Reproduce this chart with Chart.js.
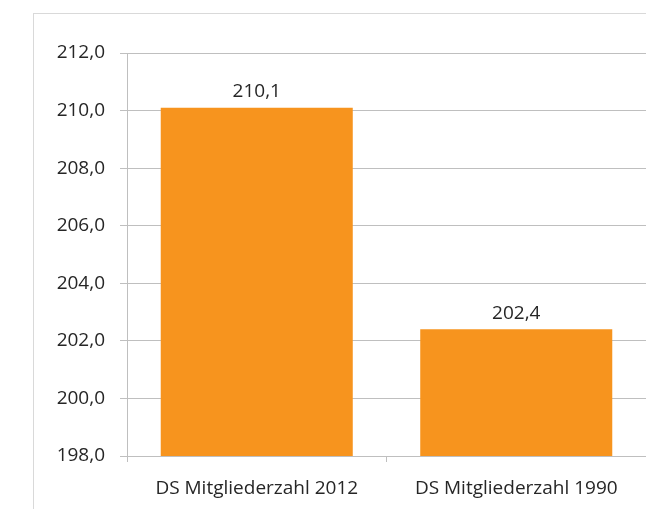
<!DOCTYPE html>
<html>
<head>
<meta charset="utf-8">
<script src="https://cdn.jsdelivr.net/npm/chart.js@4"></script>
<style>
  html, body { margin: 0; padding: 0; background: #fff; }
  #wrap { position: relative; width: 646px; height: 509px; overflow: hidden; }
  #frame { position: absolute; left: 33px; top: 13px; right: -5px; bottom: -5px; border: 1px solid #d9d9d9; }
  canvas { position: absolute; left: 0; top: 0; }
</style>
</head>
<body>
<div id="wrap">
  <div id="frame"></div>
  <canvas id="chart" width="646" height="509"></canvas>
</div>
<script>
const categories = ['DS Mitgliederzahl 2012', 'DS Mitgliederzahl 1990'];
const values = [210.1, 202.4];
const yMin = 198;
const yMax = 212;
const yStep = 2;

const fmt = v => v.toFixed(1).replace('.', ',');
const textColor = '#262626';
const fontFamily = '"Open Sans", sans-serif';
const fontSize = 19;

// value labels above each bar
const valueLabels = {
  id: 'valueLabels',
  afterDatasetsDraw(chart) {
    const ctx = chart.ctx;
    const meta = chart.getDatasetMeta(0);
    ctx.save();
    ctx.fillStyle = textColor;
    ctx.font = fontSize + 'px ' + fontFamily;
    ctx.textAlign = 'center';
    ctx.textBaseline = 'middle';
    meta.data.forEach((bar, i) => {
      ctx.fillText(fmt(values[i]), bar.x, bar.y - 16);
    });
    ctx.restore();
  }
};

new Chart(document.getElementById('chart'), {
  type: 'bar',
  data: {
    labels: categories,
    datasets: [{
      data: values,
      backgroundColor: '#f7941e',
      barPercentage: 0.74,
      categoryPercentage: 1
    }]
  },
  options: {
    responsive: false,
    animation: false,
    layout: { padding: { top: 53, right: 0, bottom: 0, left: 0 } },
    plugins: {
      legend: { display: false },
      tooltip: { enabled: false }
    },
    scales: {
      x: {
        grid: { offset: true, drawOnChartArea: false, tickLength: 6, color: '#bfbfbf' },
        border: { color: '#bfbfbf' },
        ticks: { color: textColor, font: { family: fontFamily, size: fontSize }, padding: 15 },
        afterFit(scale) { scale.height = 53; }
      },
      y: {
        min: yMin,
        max: yMax,
        grid: { color: '#bfbfbf', tickLength: 7 },
        border: { color: '#bfbfbf' },
        ticks: {
          stepSize: yStep,
          color: textColor,
          font: { family: fontFamily, size: fontSize },
          padding: 15,
          callback: v => fmt(v)
        },
        afterFit(scale) { scale.width = 127; }
      }
    }
  },
  plugins: [valueLabels]
});
</script>
</body>
</html>
